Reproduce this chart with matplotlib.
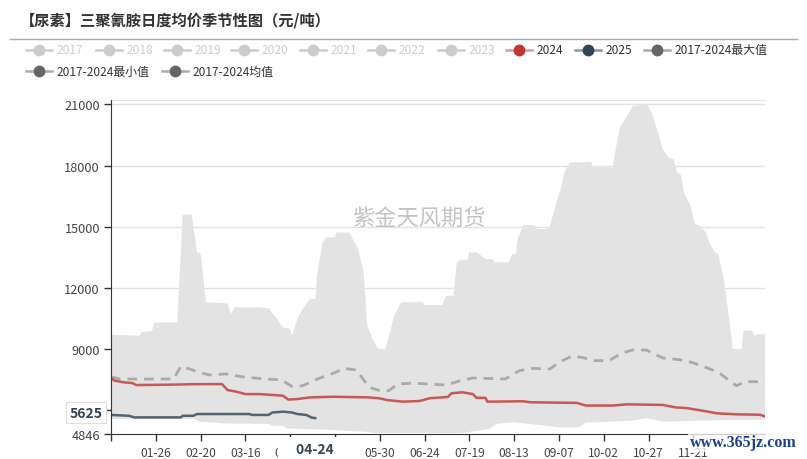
import numpy as np
import pandas as pd
import matplotlib
matplotlib.use("Agg")
import matplotlib.pyplot as plt
from matplotlib.lines import Line2D

plt.rcParams['font.family'] = ['Noto Sans CJK SC', 'DejaVu Sans']

# 2017-2024 最大值
max_dates = ['01-01', '01-03', '01-17', '01-18', '01-24', '01-25', '02-07', '02-10', '02-15', '02-18',
             '02-20', '02-23', '03-06', '03-08', '03-10', '03-24', '03-29', '04-02', '04-06', '04-10',
             '04-11', '04-14', '04-17', '04-21', '04-24', '04-25', '04-28', '04-30', '05-05', '05-06',
             '05-13', '05-18', '05-21', '05-23', '05-26', '05-29', '06-02', '06-07', '06-11', '06-23',
             '06-24', '07-04', '07-06', '07-10', '07-12', '07-14', '07-18', '07-19', '07-23', '07-25',
             '07-28', '08-01', '08-02', '08-10', '08-12', '08-14', '08-15', '08-18', '08-24', '08-26',
             '08-31', '09-02', '09-05', '09-08', '09-10', '09-13', '09-25', '09-26', '10-07', '10-08',
             '10-11', '10-14', '10-18', '10-26', '10-29', '11-01', '11-04', '11-07', '11-10', '11-12',
             '11-14', '11-16', '11-19', '11-22', '11-25', '11-28', '11-30', '12-03', '12-05', '12-08',
             '12-11', '12-13', '12-18', '12-19', '12-24', '12-25', '12-27', '12-31']
max_vals = [9750, 9700, 9660, 9830, 9900, 10300, 10320, 15590, 15590, 13750,
            13700, 11300, 11250, 10720, 11050, 11050, 11000, 10560, 10070, 10000,
            9660, 10480, 10970, 11460, 11460, 12600, 14230, 14480, 14480, 14720,
            14720, 13900, 12770, 10150, 9500, 9000, 8930, 10640, 11300, 11330,
            11165, 11165, 11620, 11620, 13255, 13380, 13380, 13750, 13750, 13630,
            13420, 13420, 13260, 13260, 13660, 13660, 14400, 15080, 15080, 14890,
            14890, 15020, 16030, 16850, 17660, 18150, 18180, 17910, 17910, 18480,
            19870, 20275, 20900, 21010, 20520, 19700, 18780, 18400, 18316, 17660,
            17580, 16600, 16110, 15130, 15020, 14730, 14200, 13750, 13660, 12440,
            10480, 9010, 9010, 9905, 9905, 9660, 9740, 9740]

# 2017-2024 最小值
min_dates = ['01-01', '02-17', '02-19', '03-05', '03-29', '03-31', '04-06', '04-08', '05-02', '05-23',
             '05-26', '07-14', '07-19', '07-30', '08-03', '08-12', '08-31', '09-07', '09-18', '09-22',
             '10-18', '10-26', '11-04', '11-25', '12-31']
min_vals = [5580, 5580, 5450, 5360, 5340, 5250, 5250, 5110, 5050, 4950,
            4900, 4890, 4950, 5090, 5340, 5420, 5250, 5170, 5175, 5400,
            5500, 5620, 5450, 5500, 5560]

# 2017-2024 均值
mean_dates = ['01-01', '01-06', '02-05', '02-09', '02-15', '02-19', '02-25', '03-05', '03-14', '03-27',
              '04-05', '04-11', '04-17', '04-26', '05-04', '05-10', '05-17', '05-24', '05-30', '06-04',
              '06-09', '06-17', '07-06', '07-14', '07-21', '08-08', '08-16', '08-23', '09-02', '09-07',
              '09-14', '09-20', '09-26', '10-05', '10-12', '10-18', '10-26', '10-29', '11-04', '11-13',
              '11-20', '11-28', '12-05', '12-15', '12-20', '12-31']
mean_vals = [7650, 7540, 7540, 8167, 8000, 7870, 7740, 7790, 7650, 7540,
             7500, 7180, 7210, 7570, 7820, 8060, 7980, 7135, 6970, 6970,
             7290, 7340, 7245, 7460, 7590, 7540, 7950, 8060, 8030, 8360,
             8650, 8600, 8440, 8440, 8810, 8960, 8960, 8810, 8570, 8490,
             8360, 8110, 7870, 7210, 7410, 7410]

# 2024
y2024_dates = ['01-01', '01-03', '01-08', '01-13', '01-15', '02-01', '02-18', '03-03', '03-06', '03-11',
               '03-16', '03-24', '03-31', '04-06', '04-09', '04-14', '04-21', '05-04', '05-24', '05-30',
               '06-03', '06-12', '06-21', '06-27', '07-07', '07-09', '07-15', '07-21', '07-23', '07-28',
               '07-29', '08-18', '08-22', '09-17', '09-22', '10-07', '10-15', '11-04', '11-11', '11-17',
               '11-26', '12-04', '12-15', '12-28', '12-31']
y2024_vals = [7570, 7460, 7380, 7340, 7245, 7260, 7290, 7290, 7000, 6920,
              6800, 6800, 6760, 6720, 6530, 6560, 6640, 6670, 6640, 6590,
              6510, 6430, 6460, 6600, 6660, 6840, 6890, 6800, 6620, 6620,
              6430, 6450, 6400, 6370, 6240, 6240, 6300, 6270, 6150, 6120,
              5990, 5860, 5810, 5790, 5710]

# 2025
y2025_dates = ['01-01', '01-11', '01-14', '02-09', '02-10', '02-16', '02-18', '03-18', '03-20', '03-29',
               '03-31', '04-06', '04-11', '04-14', '04-19', '04-22', '04-24']
y2025_vals = [5780, 5740, 5660, 5660, 5740, 5740, 5825, 5825, 5780, 5780,
              5900, 5940, 5900, 5825, 5780, 5650, 5625]

# 12-16 sits under the site watermark in the reference, so only its tick is drawn
xtick_dates = ['01-26', '02-20', '03-16', '04-10', '05-05', '05-30', '06-24', '07-19',
               '08-13', '09-07', '10-02', '10-27', '11-21', '12-16']
xtick_labels = xtick_dates[:-1] + ['']
ytick_vals = [4846, 6000, 9000, 12000, 15000, 18000, 21000]
y_min, y_max = 4846, 21225
pointer_date = '04-24'
pointer_val = 5625

legend_row1 = ['2017', '2018', '2019', '2020', '2021', '2022', '2023', '2024', '2025', '2017-2024最大值']
legend_row2 = ['2017-2024最小值', '2017-2024均值']


def day_index(dates):
    return pd.to_datetime(['2024-' + d for d in dates]).dayofyear.values - 1


W, H = 807, 460
fig = plt.figure(figsize=(W / 100, H / 100), dpi=100)
ax = fig.add_axes([111 / W, 1 - 435 / H, 654 / W, (435 - 100.7) / H])

xmax, xmin = day_index(max_dates), day_index(min_dates)
ax.fill(np.concatenate([xmax, xmin[::-1]]), np.concatenate([max_vals, min_vals[::-1]]),
        color='#e3e3e3', lw=0, zorder=1)
ax.plot(day_index(mean_dates), mean_vals, color='#aaaaaa', lw=2, ls=(0, (3.5, 2.5)), zorder=3)
ax.plot(day_index(y2024_dates), y2024_vals, color='#c23531', alpha=0.8, lw=1.8, zorder=4)
ax.plot(day_index(y2025_dates), y2025_vals, color='#2f4554', alpha=0.8, lw=1.8, zorder=5)

ax.set_xlim(0, 365)
ax.set_ylim(y_min, y_max)
for v in ytick_vals[1:]:
    ax.axhline(v, color='#e3e3e3', lw=1, zorder=0)

ax.set_yticks(ytick_vals)
ax.set_yticklabels([str(v) for v in ytick_vals])
ax.set_xticks(np.concatenate([[0], day_index(xtick_dates)]))
ax.set_xticklabels([''] + xtick_labels)
ax.tick_params(axis='both', length=5, width=1, color='#333333', labelcolor='#444444')
ax.tick_params(axis='x', pad=4, labelsize=8.6)
ax.tick_params(axis='y', pad=3, labelsize=9.2)
for s in ['left', 'bottom']:
    ax.spines[s].set_color('#333333')
    ax.spines[s].set_zorder(12)
ax.spines['right'].set_visible(False)
ax.spines['top'].set_color('#e3e3e3')

# watermark
ax.text(0.47, 0.645, '紫金天风期货', transform=ax.transAxes, ha='center', va='center',
        fontsize=16, color='#c4c4c4', zorder=6)

# axis pointer labels
ax.annotate(str(pointer_val), xy=(0, pointer_val), xycoords=('axes fraction', 'data'),
            xytext=(-6, 4), textcoords='offset points', ha='right', va='center',
            fontsize=10, fontweight='bold', color='#2f4554', zorder=10, annotation_clip=False,
            bbox=dict(boxstyle='square,pad=0.25', fc='white', ec='#dddddd', lw=0.8))
ax.annotate('\u2002\u2002' + pointer_date + '\u2002\u2002', xy=(day_index([pointer_date])[0], 0),
            xycoords=('data', 'axes fraction'),
            xytext=(0, -10.5), textcoords='offset points', ha='center', va='center',
            fontsize=10, fontweight='bold', color='#2f4554', zorder=10, annotation_clip=False,
            bbox=dict(boxstyle='square,pad=0.3', fc='white', ec='none'))

# overlay in pixel coordinates for title / legend
ov = fig.add_axes([0, 0, 1, 1], facecolor='none')
ov.set_xlim(0, W)
ov.set_ylim(H, 0)
ov.axis('off')

ov.text(20, 21, '【尿素】三聚氰胺日度均价季节性图（元/吨）', fontsize=11, fontweight='bold',
        color='#333333', va='center', ha='left')
ov.add_line(Line2D([10, 797], [40, 40], color='#aaaaaa', lw=1))

row1_x = [26, 96, 164, 231, 300, 368, 438, 506, 575, 644]
row2_x = [26, 162]
styles = {}
for name in legend_row1[:7]:
    styles[name] = ('#cccccc', '#cccccc', '#cccccc')
styles['2024'] = ('#e39896', '#c23531', '#333333')
styles['2025'] = ('#8a98a3', '#2f4554', '#333333')
for name in [legend_row1[9]] + legend_row2:
    styles[name] = ('#aaaaaa', '#666666', '#333333')

for names, xs, y in [(legend_row1, row1_x, 50.5), (legend_row2, row2_x, 72)]:
    for name, x0 in zip(names, xs):
        lc, mc, tc = styles[name]
        ov.add_line(Line2D([x0, x0 + 26], [y, y], color=lc, lw=1.8))
        ov.plot([x0 + 13], [y], 'o', ms=7.5, color=mc, mec=mc)
        ov.text(x0 + 31, y, name, fontsize=8.6, color=tc, va='center', ha='left')

ov.text(743, 443, 'www.365jz.com', fontsize=11.5, color='#1f3f8f', fontweight='bold',
        family='Liberation Serif', ha='center', va='center',
        bbox=dict(boxstyle='square,pad=0.1', fc='white', ec='none', alpha=0.75))

fig.savefig('out.png', dpi=100)
